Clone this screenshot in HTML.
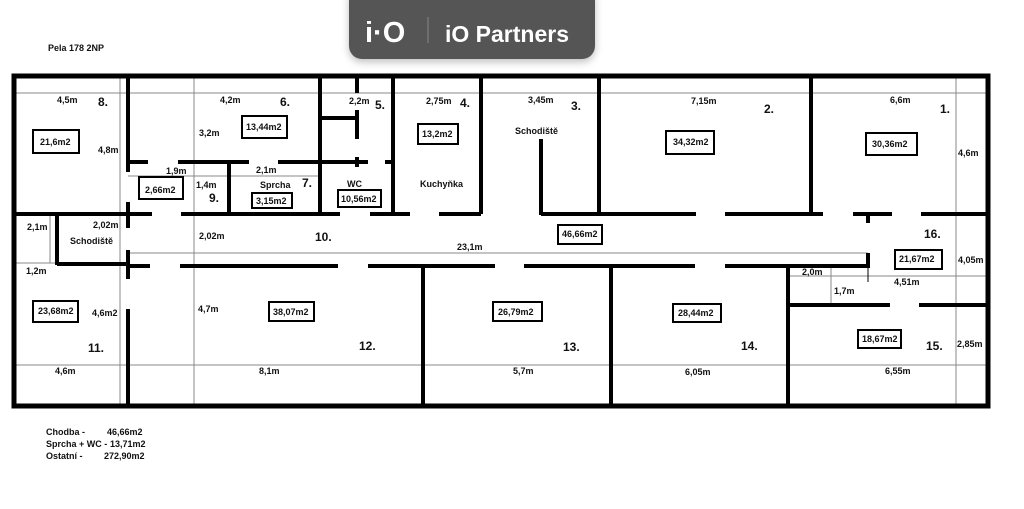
<!DOCTYPE html>
<html><head><meta charset="utf-8"><style>
html,body{margin:0;padding:0;background:#fff;width:1024px;height:509px;overflow:hidden}
svg{display:block}
text{font-family:"Liberation Sans",sans-serif;font-weight:bold;font-size:9px;fill:#111}
.n{font-size:12px}
.t{stroke:#888;stroke-width:1;fill:none}
.w{stroke:#000;stroke-width:4;fill:none}
.b{stroke:#000;stroke-width:2;fill:#fff}
</style></head><body>
<svg width="1024" height="509" viewBox="0 0 1024 509">
<defs><filter id="sh" x="-10%" y="-30%" width="120%" height="170%"><feDropShadow dx="0" dy="3" stdDeviation="4" flood-color="#000" flood-opacity="0.25"/></filter></defs>
<rect x="349" y="-14" width="246" height="73" rx="13" fill="#555" filter="url(#sh)"/>
<text x="365" y="42" style="font-size:29px;fill:#fff;font-weight:bold">i·O</text>
<line x1="428" y1="17" x2="428" y2="43" stroke="#888" stroke-width="1"/>
<text x="445" y="42" style="font-size:23px;fill:#fff;font-weight:bold">iO Partners</text>

<text x="48" y="51">Pela 178  2NP</text>

<g class="t">
<line x1="14" y1="93" x2="988" y2="93"/>
<line x1="14" y1="365" x2="988" y2="365"/>
<line x1="120" y1="78" x2="120" y2="405"/>
<line x1="194" y1="78" x2="194" y2="405"/>
<line x1="956" y1="78" x2="956" y2="405"/>
<line x1="128" y1="176" x2="320" y2="176"/>
<line x1="50" y1="215" x2="50" y2="263"/>
<line x1="14" y1="263" x2="57" y2="263"/>
<line x1="128" y1="253" x2="868" y2="253"/>
<line x1="788" y1="276" x2="988" y2="276"/>
<line x1="831" y1="266" x2="831" y2="305"/>
</g>

<g class="w">
<line x1="128" y1="78" x2="128" y2="172"/>
<line x1="128" y1="202" x2="128" y2="228"/>
<line x1="128" y1="250" x2="128" y2="279"/>
<line x1="128" y1="309" x2="128" y2="405"/>
<line x1="128" y1="162" x2="148" y2="162"/>
<line x1="178" y1="162" x2="249" y2="162"/>
<line x1="278" y1="162" x2="368" y2="162"/>
<line x1="385" y1="162" x2="393" y2="162"/>
<line x1="229" y1="162" x2="229" y2="215"/>
<line x1="14" y1="214" x2="152" y2="214"/>
<line x1="181" y1="214" x2="340" y2="214"/>
<line x1="370" y1="214" x2="410" y2="214"/>
<line x1="439" y1="214" x2="481" y2="214"/>
<line x1="541" y1="214" x2="696" y2="214"/>
<line x1="725" y1="214" x2="823" y2="214"/>
<line x1="853" y1="214" x2="892" y2="214"/>
<line x1="921" y1="214" x2="988" y2="214"/>
<line x1="868" y1="214" x2="868" y2="223"/>
<line x1="320" y1="78" x2="320" y2="214"/>
<line x1="320" y1="118" x2="357" y2="118"/>
<line x1="357" y1="78" x2="357" y2="93"/>
<line x1="357" y1="110" x2="357" y2="139"/>
<line x1="357" y1="157" x2="357" y2="167"/>
<line x1="380" y1="190" x2="380" y2="207"/>
<line x1="393" y1="78" x2="393" y2="214"/>
<line x1="481" y1="78" x2="481" y2="214"/>
<line x1="541" y1="139" x2="541" y2="215"/>
<line x1="599" y1="78" x2="599" y2="214"/>
<line x1="811" y1="78" x2="811" y2="214"/>
<line x1="57" y1="214" x2="57" y2="265"/>
<line x1="57" y1="264" x2="128" y2="264"/>
<line x1="128" y1="266" x2="150" y2="266"/>
<line x1="180" y1="266" x2="338" y2="266"/>
<line x1="368" y1="266" x2="495" y2="266"/>
<line x1="524" y1="266" x2="695" y2="266"/>
<line x1="725" y1="266" x2="870" y2="266"/>
<line x1="868" y1="253" x2="868" y2="267"/>
<line x1="423" y1="266" x2="423" y2="405"/>
<line x1="611" y1="266" x2="611" y2="405"/>
<line x1="788" y1="266" x2="788" y2="405"/>
<line x1="788" y1="305" x2="890" y2="305"/>
<line x1="919" y1="305" x2="988" y2="305"/>
</g>
<line x1="868" y1="268" x2="868" y2="282" stroke="#000" stroke-width="1"/>
<rect x="14" y="76" width="974" height="330" fill="none" stroke="#000" stroke-width="5"/>

<g class="b">
<rect x="33" y="130" width="46" height="23"/>
<rect x="242" y="116" width="45" height="22"/>
<rect x="139" y="177" width="44" height="22"/>
<rect x="252" y="193" width="40" height="15"/>
<rect x="338" y="190" width="43" height="17"/>
<rect x="418" y="124" width="40" height="20"/>
<rect x="666" y="131" width="48" height="23"/>
<rect x="866" y="133" width="51" height="22"/>
<rect x="558" y="225" width="44" height="19"/>
<rect x="895" y="250" width="47" height="19"/>
<rect x="33" y="301" width="45" height="21"/>
<rect x="269" y="302" width="45" height="19"/>
<rect x="493" y="302" width="49" height="19"/>
<rect x="673" y="304" width="48" height="18"/>
<rect x="858" y="330" width="43" height="18"/>
</g>
<text x="40" y="145">21,6m2</text>
<text x="246" y="130">13,44m2</text>
<text x="145" y="193">2,66m2</text>
<text x="256" y="204">3,15m2</text>
<text x="341" y="202">10,56m2</text>
<text x="422" y="137">13,2m2</text>
<text x="673" y="145">34,32m2</text>
<text x="872" y="147">30,36m2</text>
<text x="562" y="237">46,66m2</text>
<text x="899" y="262">21,67m2</text>
<text x="38" y="314">23,68m2</text>
<text x="273" y="315">38,07m2</text>
<text x="498" y="315">26,79m2</text>
<text x="678" y="316">28,44m2</text>
<text x="862" y="342">18,67m2</text>

<text class="n" x="98" y="106">8.</text>
<text class="n" x="280" y="106">6.</text>
<text class="n" x="375" y="109">5.</text>
<text class="n" x="460" y="107">4.</text>
<text class="n" x="571" y="110">3.</text>
<text class="n" x="764" y="113">2.</text>
<text class="n" x="940" y="113">1.</text>
<text class="n" x="302" y="187">7.</text>
<text class="n" x="209" y="202">9.</text>
<text class="n" x="315" y="241">10.</text>
<text class="n" x="924" y="238">16.</text>
<text class="n" x="88" y="352">11.</text>
<text class="n" x="359" y="350">12.</text>
<text class="n" x="563" y="351">13.</text>
<text class="n" x="741" y="350">14.</text>
<text class="n" x="926" y="350">15.</text>

<text x="57" y="103">4,5m</text>
<text x="220" y="103">4,2m</text>
<text x="349" y="104">2,2m</text>
<text x="426" y="104">2,75m</text>
<text x="528" y="103">3,45m</text>
<text x="691" y="104">7,15m</text>
<text x="890" y="103">6,6m</text>
<text x="98" y="153">4,8m</text>
<text x="199" y="136">3,2m</text>
<text x="958" y="156">4,6m</text>
<text x="515" y="134">Schodiště</text>
<text x="166" y="174">1,9m</text>
<text x="256" y="173">2,1m</text>
<text x="196" y="188">1,4m</text>
<text x="260" y="188">Sprcha</text>
<text x="347" y="187">WC</text>
<text x="420" y="187">Kuchyňka</text>
<text x="27" y="230">2,1m</text>
<text x="93" y="228">2,02m</text>
<text x="70" y="244">Schodiště</text>
<text x="199" y="239">2,02m</text>
<text x="457" y="250">23,1m</text>
<text x="958" y="263">4,05m</text>
<text x="26" y="274">1,2m</text>
<text x="802" y="275">2,0m</text>
<text x="894" y="285">4,51m</text>
<text x="834" y="294">1,7m</text>
<text x="92" y="316">4,6m2</text>
<text x="198" y="312">4,7m</text>
<text x="957" y="347">2,85m</text>
<text x="55" y="374">4,6m</text>
<text x="259" y="374">8,1m</text>
<text x="513" y="374">5,7m</text>
<text x="685" y="375">6,05m</text>
<text x="885" y="374">6,55m</text>

<text x="46" y="435">Chodba -</text>
<text x="107" y="435">46,66m2</text>
<text x="46" y="447">Sprcha + WC -</text>
<text x="110" y="447">13,71m2</text>
<text x="46" y="459">Ostatní -</text>
<text x="104" y="459">272,90m2</text>
</svg>
</body></html>
